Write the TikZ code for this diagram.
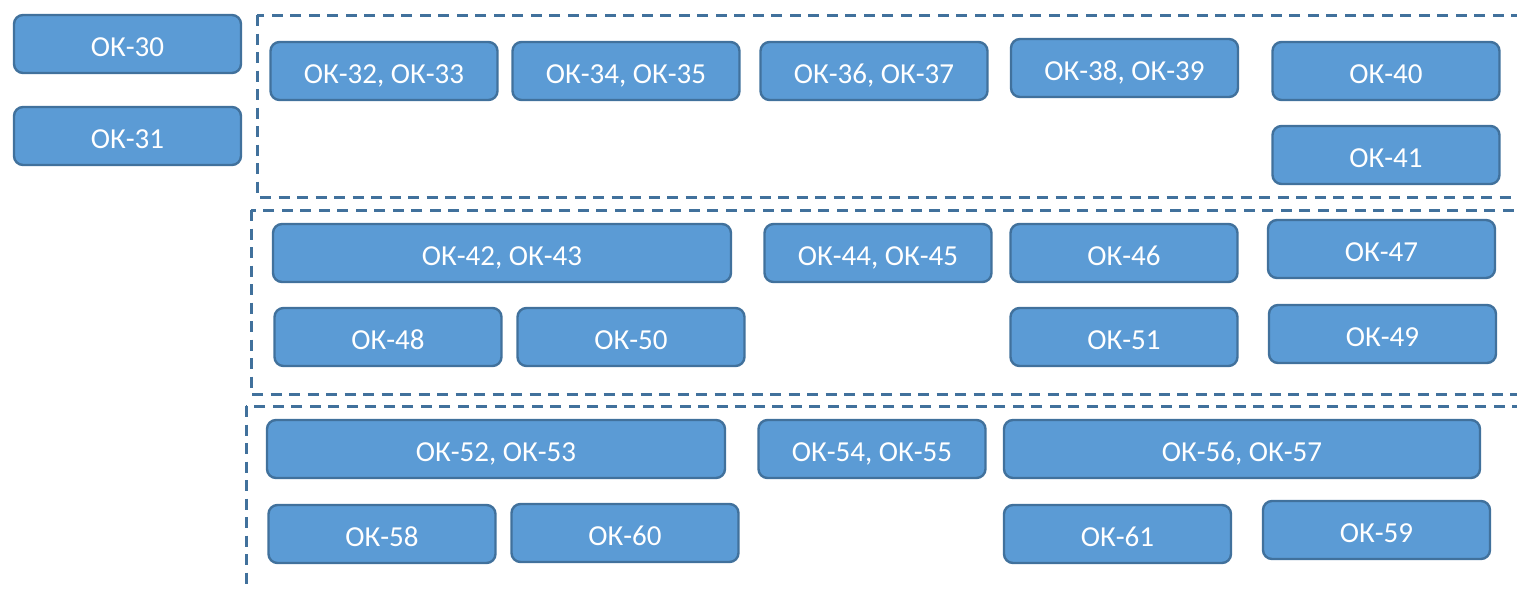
\documentclass[tikz,border=0pt]{standalone}
\usepackage{fontspec}
\setmainfont{Carlito}
\definecolor{okfill}{HTML}{5B9BD5}
\definecolor{okline}{HTML}{41719C}

\begin{document}
\begin{tikzpicture}[x=0.5pt, y=-0.5pt,
    okbox/.style={draw=okline, fill=okfill, line width=1.2pt, rounded corners=4.5pt,
        minimum height=29pt, inner sep=0pt, text=white, font=\fontsize{14.5}{16}\selectfont,
        text height=12.5pt, text depth=0pt},
    groupframe/.style={draw=okline, line width=1.5pt, dash pattern=on 5.5pt off 3.75pt}]
    \useasboundingbox (0,0) rectangle (1517,589);
    \begin{scope}
        \clip (0,0) rectangle (1517,589);
        \draw[groupframe] (257,15) rectangle (1540,197);
        \draw[groupframe] (251,210) rectangle (1540,394);
        \draw[groupframe] (246,406) rectangle (1540,620);
    \end{scope}

    \foreach \n/\x/\y/\w/\t in {
            ok30/127.5/44/227/{ОК-30}, ok31/127.5/136/227/{ОК-31},
            ok32/384/71/227/{ОК-32, ОК-33}, ok34/626/71/227/{ОК-34, ОК-35},
            ok36/874/71/227/{ОК-36, ОК-37}, ok38/1124.5/68/227/{ОК-38, ОК-39},
            ok40/1386/71/227/{ОК-40}, ok41/1386/155/227/{ОК-41},
            ok42/502/253/458/{ОК-42, ОК-43}, ok44/878/253/227/{ОК-44, ОК-45},
            ok46/1124/253/227/{ОК-46}, ok47/1381.5/249/227/{ОК-47},
            ok48/388/337/227/{ОК-48}, ok50/631/337/227/{ОК-50},
            ok51/1124/337/227/{ОК-51}, ok49/1382.5/334/227/{ОК-49},
            ok52/496/449/458/{ОК-52, ОК-53}, ok54/872/449/227/{ОК-54, ОК-55},
            ok56/1242/449/476/{ОК-56, ОК-57},
            ok58/382/534/227/{ОК-58}, ok60/625/533/227/{ОК-60},
            ok61/1117.5/534/227/{ОК-61}, ok59/1376.5/530/227/{ОК-59}} {
        \node[okbox, minimum width=\w*0.5pt] (\n) at (\x,\y) {\t};
    }

\end{tikzpicture}
\end{document}
